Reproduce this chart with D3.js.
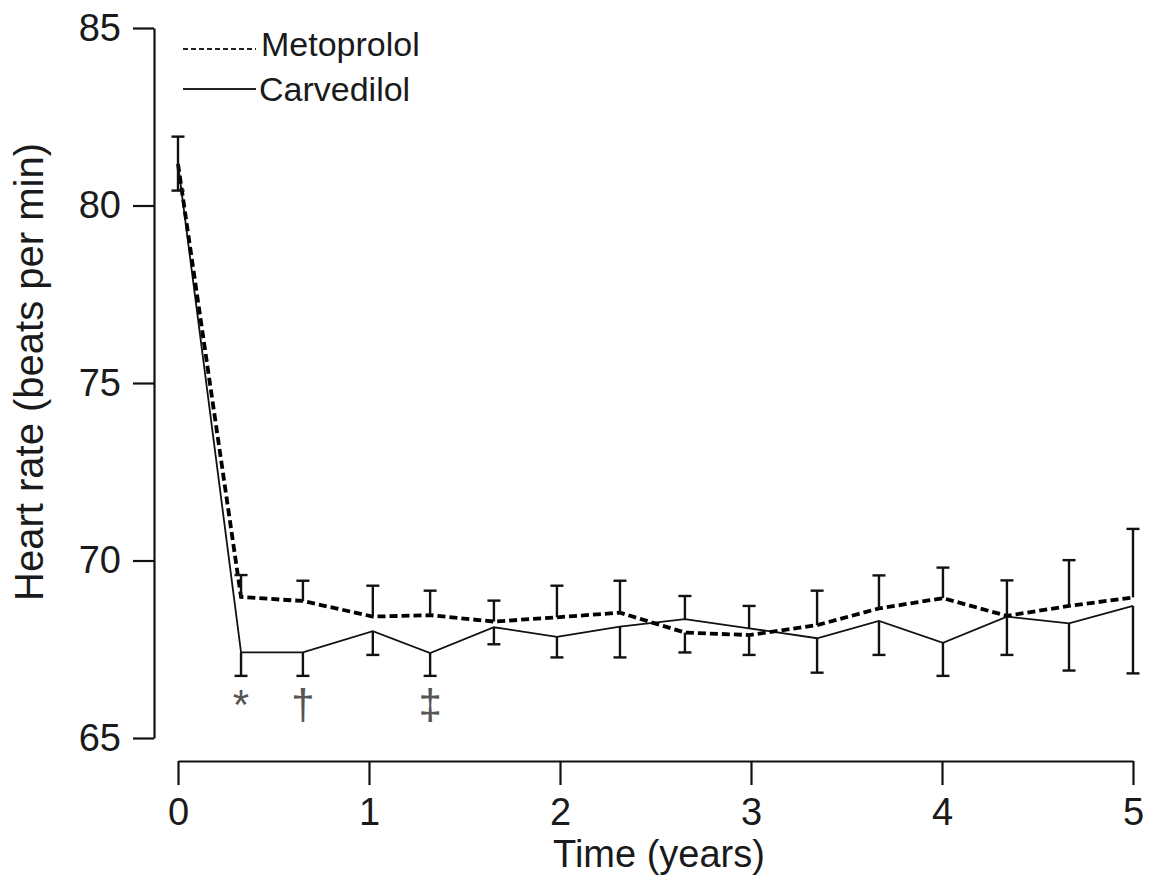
<!DOCTYPE html>
<html>
<head>
<meta charset="utf-8">
<script src="https://cdn.jsdelivr.net/npm/d3@7"></script>
<style>
  html, body { margin: 0; padding: 0; background: #fff; }
  svg { display: block; font-family: "Liberation Sans", Arial, sans-serif; }
</style>
</head>
<body>
<svg id="chart" width="1153" height="878"></svg>
<script>
// Visit times (years since randomisation)
const times = [0, 0.33, 0.654, 1.02, 1.32, 1.654, 1.984, 2.314, 2.654, 2.99, 3.346, 3.67, 4.005, 4.34, 4.665, 5.0];

// Mean heart rate (beats per min) and standard error per visit
const metoprolol    = [81.17, 68.97, 68.86, 68.42, 68.46, 68.28, 68.40, 68.53, 67.97, 67.90, 68.18, 68.65, 68.94, 68.44, 68.72, 68.96];
const metoprololErr = [0.77, 0.62, 0.57, 0.87, 0.69, 0.59, 0.89, 0.90, 0.56, 0.56, 0.97, 0.93, 0.86, 1.00, 1.29, 1.93];
const carvedilol    = [81.17, 67.41, 67.41, 68.01, 67.39, 68.12, 67.85, 68.14, 68.35, 68.09, 67.81, 68.30, 67.68, 68.42, 68.23, 68.72];
const carvedilolErr = [0.75, 0.66, 0.66, 0.67, 0.64, 0.48, 0.58, 0.87, 0.65, 0.63, 0.97, 0.96, 0.93, 1.08, 1.33, 1.90];

// Significance markers (visit index and symbol)
const markerIndex = [1, 2, 4];
const markerLabel = ["*", "\u2020", "\u2021"];

// Axis ticks
const xTicks = [0, 1, 2, 3, 4, 5];
const yTicks = [65, 70, 75, 80, 85];

const seriesNames = ["Metoprolol", "Carvedilol"];

const svg = d3.select("#chart");

const x = d3.scaleLinear().domain([0, 5]).range([178, 1133]);
const y = d3.scaleLinear().domain([65, 85]).range([738, 28]);

// Y axis
const yAxis = svg.append("g")
  .attr("transform", "translate(154,0)")
  .call(d3.axisLeft(y).tickValues(yTicks).tickFormat(d3.format("d"))
    .tickSize(21).tickSizeOuter(0).tickPadding(12));
yAxis.select(".domain").attr("stroke", "#111").attr("stroke-width", 2.2);
yAxis.selectAll(".tick line").attr("stroke", "#111").attr("stroke-width", 2.2);
yAxis.selectAll(".tick text").attr("font-size", 38).attr("fill", "#1a1a1a")
  .attr("font-family", "'Liberation Sans', Arial, sans-serif");

// X axis
const xAxis = svg.append("g")
  .attr("transform", "translate(0,761)")
  .call(d3.axisBottom(x).tickValues(xTicks).tickFormat(d3.format("d"))
    .tickSize(24).tickSizeOuter(0).tickPadding(13));
xAxis.select(".domain").attr("stroke", "#111").attr("stroke-width", 2.2);
xAxis.selectAll(".tick line").attr("stroke", "#111").attr("stroke-width", 2.2);
xAxis.selectAll(".tick text").attr("font-size", 38).attr("fill", "#1a1a1a")
  .attr("font-family", "'Liberation Sans', Arial, sans-serif");

// Axis titles
svg.append("text")
  .attr("transform", "translate(43,372) rotate(-90)")
  .attr("text-anchor", "middle")
  .attr("font-size", 40)
  .attr("fill", "#1a1a1a")
  .text("Heart rate (beats per min)");

svg.append("text")
  .attr("x", 659).attr("y", 867)
  .attr("text-anchor", "middle")
  .attr("font-size", 38)
  .attr("fill", "#1a1a1a")
  .text("Time (years)");

// Series lines
const line = d3.line().x(d => x(d.t)).y(d => y(d.v));
const metPts = times.map((t, i) => ({ t, v: metoprolol[i] }));
const carPts = times.map((t, i) => ({ t, v: carvedilol[i] }));

svg.append("path")
  .datum(carPts)
  .attr("d", line)
  .attr("fill", "none")
  .attr("stroke", "#111")
  .attr("stroke-width", 1.8);

svg.append("path")
  .datum(metPts)
  .attr("d", line)
  .attr("fill", "none")
  .attr("stroke", "#000")
  .attr("stroke-width", 3.8)
  .attr("stroke-dasharray", "8,4");

// One-sided error bars pointing away from the other series
const bars = [];
times.forEach((t, i) => {
  const metUp = metoprolol[i] >= carvedilol[i];
  bars.push({ t, from: metoprolol[i], to: metUp ? metoprolol[i] + metoprololErr[i] : metoprolol[i] - metoprololErr[i] });
  bars.push({ t, from: carvedilol[i], to: metUp ? carvedilol[i] - carvedilolErr[i] : carvedilol[i] + carvedilolErr[i] });
});

const barG = svg.append("g").attr("stroke", "#111").attr("stroke-width", 2.4);
barG.selectAll("line.stem").data(bars).join("line")
  .attr("class", "stem")
  .attr("x1", d => x(d.t)).attr("x2", d => x(d.t))
  .attr("y1", d => y(d.from)).attr("y2", d => y(d.to));
barG.selectAll("line.cap").data(bars).join("line")
  .attr("class", "cap")
  .attr("x1", d => x(d.t) - 6.5).attr("x2", d => x(d.t) + 6.5)
  .attr("y1", d => y(d.to)).attr("y2", d => y(d.to));

// Significance markers beneath the carvedilol error bars
svg.selectAll("text.marker").data(markerIndex).join("text")
  .attr("class", "marker")
  .attr("x", d => x(times[d]))
  .attr("y", d => y(carvedilol[d] - carvedilolErr[d]) + 43)
  .attr("text-anchor", "middle")
  .attr("font-size", 42)
  .attr("fill", "#555")
  .text((d, i) => markerLabel[i]);

// Legend
const legend = svg.append("g");
legend.append("line")
  .attr("x1", 183).attr("x2", 256).attr("y1", 49).attr("y2", 49)
  .attr("stroke", "#222").attr("stroke-width", 2).attr("stroke-dasharray", "5,3");
legend.append("text")
  .attr("x", 261).attr("y", 56)
  .attr("font-size", 34).attr("fill", "#1a1a1a")
  .text(seriesNames[0]);
legend.append("line")
  .attr("x1", 183).attr("x2", 256).attr("y1", 89).attr("y2", 89)
  .attr("stroke", "#222").attr("stroke-width", 2);
legend.append("text")
  .attr("x", 259).attr("y", 101)
  .attr("font-size", 34).attr("fill", "#1a1a1a")
  .text(seriesNames[1]);
</script>
</body>
</html>
